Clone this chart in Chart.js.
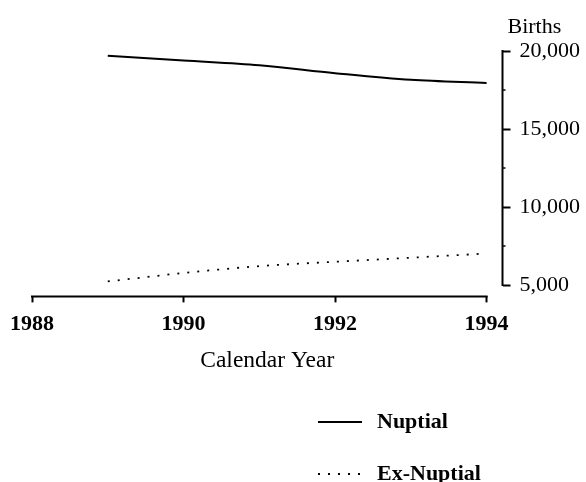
<!DOCTYPE html>
<html>
<head>
<meta charset="utf-8">
<script src="https://cdn.jsdelivr.net/npm/chart.js@4.4.0/dist/chart.umd.min.js"></script>
<style>
  html, body { margin: 0; padding: 0; background: #fff; }
  #wrap { width: 586px; height: 482px; position: relative; }
</style>
</head>
<body>
<div id="wrap"><canvas id="births"></canvas></div>
<script>
// values
const years = [1989, 1990, 1991, 1992, 1993, 1994];
const nuptial = [19690, 19390, 19090, 18580, 18150, 17950];
const exNuptial = [5230, 5770, 6210, 6490, 6750, 7020];
const seriesNames = ["Nuptial", "Ex-Nuptial"];
const xTicks = [1988, 1990, 1992, 1994];
const yTicks = [5000, 10000, 15000, 20000];
const yMinorTicks = [7500, 12500, 17500];

const serif = "'Liberation Serif', 'Times New Roman', serif";

// axis lines that stop at the end ticks, the "Births" caption and the legend
const decorations = {
    id: "decorations",
    afterDraw(chart) {
        const {ctx, chartArea, scales: {x, y}} = chart;
        ctx.save();
        ctx.strokeStyle = "#000";
        ctx.lineWidth = 2;

        const xb = chartArea.bottom;
        ctx.beginPath();
        ctx.moveTo(x.getPixelForValue(xTicks[0]) - 1, xb);
        ctx.lineTo(x.getPixelForValue(xTicks[xTicks.length - 1]) + 1, xb);
        ctx.stroke();

        const yr = chartArea.right;
        ctx.beginPath();
        ctx.moveTo(yr, y.getPixelForValue(yTicks[yTicks.length - 1]) - 1);
        ctx.lineTo(yr, y.getPixelForValue(yTicks[0]) + 1);
        ctx.stroke();

        ctx.lineWidth = 1.5;
        yMinorTicks.forEach((v) => {
            const py = y.getPixelForValue(v);
            ctx.beginPath();
            ctx.moveTo(yr, py);
            ctx.lineTo(yr + 3, py);
            ctx.stroke();
        });

        ctx.fillStyle = "#000";
        ctx.font = "22px " + serif;
        ctx.textAlign = "left";
        ctx.textBaseline = "alphabetic";
        ctx.fillText("Births", yr + 5, 33);

        ctx.font = "bold 22px " + serif;
        ctx.textBaseline = "middle";
        chart.data.datasets.forEach((ds, i) => {
            const ly = 422 + i * 52;
            ctx.strokeStyle = ds.borderColor;
            ctx.lineWidth = ds.borderWidth;
            ctx.setLineDash(ds.borderDash || []);
            ctx.beginPath();
            ctx.moveTo(318, ly);
            ctx.lineTo(362, ly);
            ctx.stroke();
            ctx.setLineDash([]);
            ctx.fillText(ds.label, 377, ly);
        });
        ctx.restore();
    }
};

new Chart(document.getElementById("births"), {
    type: "line",
    data: {
        datasets: [{
            label: seriesNames[0],
            data: years.map((yr, i) => ({x: yr, y: nuptial[i]})),
            borderColor: "#000",
            borderWidth: 2,
            pointRadius: 0,
            cubicInterpolationMode: "monotone",
        }, {
            label: seriesNames[1],
            data: years.map((yr, i) => ({x: yr, y: exNuptial[i]})),
            borderColor: "#000",
            borderWidth: 1.8,
            borderDash: [2, 8],
            pointRadius: 0,
            cubicInterpolationMode: "monotone",
        }]
    },
    options: {
        responsive: true,
        maintainAspectRatio: false,
        animation: false,
        layout: {
            padding: {left: 32, right: -3, top: 51, bottom: 103}
        },
        scales: {
            x: {
                type: "linear",
                min: 1988,
                max: 1994.21,
                afterBuildTicks: (scale) => {
                    scale.ticks = xTicks.map((v) => ({value: v}));
                },
                border: {display: false},
                grid: {
                    drawOnChartArea: false,
                    tickLength: 6,
                    tickWidth: 2,
                    tickColor: "#000"
                },
                ticks: {
                    color: "#000",
                    padding: 9,
                    maxRotation: 0,
                    font: {family: serif, size: 22, weight: "bold"},
                    callback: (v) => String(v)
                },
                title: {
                    display: true,
                    text: "Calendar Year",
                    color: "#000",
                    padding: {top: 0, bottom: 4},
                    font: {family: serif, size: 23.5}
                }
            },
            y: {
                position: "right",
                min: 4270,
                max: 20000,
                afterBuildTicks: (scale) => {
                    scale.ticks = yTicks.map((v) => ({value: v}));
                },
                border: {display: false},
                grid: {
                    drawOnChartArea: false,
                    tickLength: 8,
                    tickWidth: 2,
                    tickColor: "#000"
                },
                ticks: {
                    color: "#000",
                    padding: 9,
                    font: {family: serif, size: 22},
                    callback: (v) => v.toLocaleString("en-US")
                }
            }
        },
        plugins: {
            legend: {display: false},
            tooltip: {enabled: false}
        }
    },
    plugins: [decorations]
});
</script>
</body>
</html>
